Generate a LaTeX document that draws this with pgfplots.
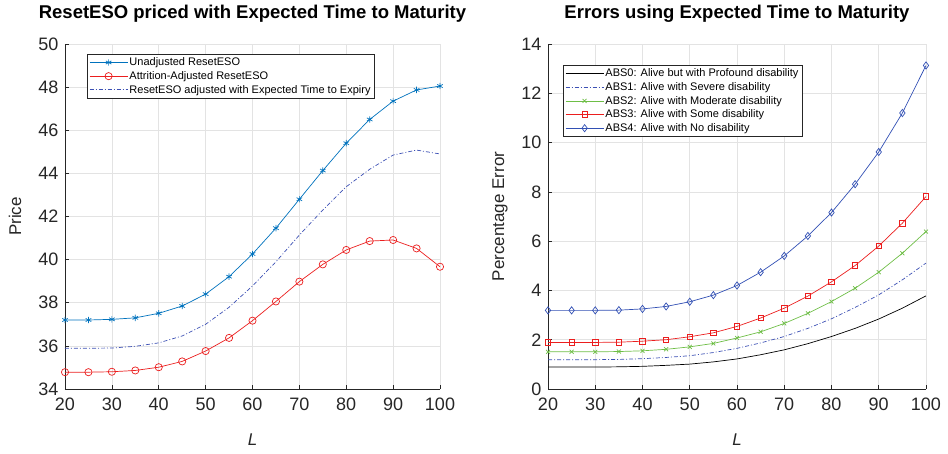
\documentclass[border=0pt]{standalone}
\usepackage{pgfplots}
\pgfplotsset{compat=1.18}
\usepackage{pgfplotstable}
\usepackage{fontspec}
\setmainfont{Liberation Sans}

\definecolor{mblue}{RGB}{0,114,189}
\definecolor{mred}{RGB}{235,30,30}
\definecolor{dblue}{RGB}{60,80,180}
\definecolor{mgreen}{RGB}{110,190,70}
\definecolor{dkblue}{RGB}{50,80,180}
\definecolor{axgray}{RGB}{38,38,38}

% L, unadjusted, attrition-adjusted, expected time
\pgfplotstableread{
L U A E
20 37.20 34.78 35.89
25 37.20 34.78 35.89
30 37.23 34.80 35.90
35 37.30 34.86 35.98
40 37.51 35.01 36.14
45 37.85 35.28 36.46
50 38.40 35.76 37.00
55 39.21 36.37 37.79
60 40.26 37.17 38.78
65 41.46 38.06 39.90
70 42.80 38.98 41.14
75 44.13 39.78 42.30
80 45.40 40.45 43.38
85 46.50 40.86 44.19
90 47.35 40.91 44.85
95 47.87 40.52 45.08
100 48.05 39.67 44.90
}\priceT

% L, ABS0 ... ABS4
\pgfplotstableread{
L A0 A1 A2 A3 A4
20 0.89 1.19 1.51 1.89 3.19
25 0.89 1.19 1.51 1.89 3.19
30 0.89 1.19 1.51 1.89 3.19
35 0.90 1.20 1.52 1.90 3.20
40 0.92 1.23 1.55 1.94 3.25
45 0.96 1.28 1.61 2.00 3.35
50 1.01 1.35 1.71 2.12 3.54
55 1.10 1.48 1.85 2.28 3.81
60 1.22 1.65 2.07 2.54 4.20
65 1.39 1.87 2.32 2.88 4.74
70 1.59 2.13 2.66 3.28 5.40
75 1.84 2.46 3.07 3.77 6.21
80 2.13 2.85 3.55 4.35 7.16
85 2.46 3.31 4.09 5.01 8.31
90 2.84 3.82 4.74 5.80 9.62
95 3.28 4.43 5.51 6.73 11.20
100 3.78 5.11 6.39 7.81 13.13
}\errT

\pgfplotsset{
  mstyle/.style={
    scale only axis, width=375pt, height=345pt,
    axis lines*=left, axis line style={axgray, line width=0.6pt},
    tick align=inside, major tick length=4pt,
    tick style={axgray, line width=0.6pt},
    grid=major, major grid style={gray!22, line width=0.6pt},
    xmin=20, xmax=100, xtick={20,30,...,100},
    /pgf/number format/assume math mode=true,
    tick label style={font=\fontsize{18}{18}\selectfont, text=axgray},
    xticklabel style={yshift=-5pt},
    yticklabel style={xshift=-3pt},
    every axis title/.style={at={(axis description cs:0.5,1.087)}, anchor=center,
      font=\fontsize{18.5}{20}\selectfont\bfseries},
    xlabel style={at={(axis description cs:0.5,-0.148)}, anchor=center,
      font=\fontsize{17}{17}\selectfont\itshape, text=axgray},
    ylabel style={anchor=center, font=\fontsize{17}{17}\selectfont, text=axgray},
    legend cell align=left,
    legend style={draw=axgray, line width=0.5pt, fill=white,
      font=\fontsize{11}{11}\selectfont, inner sep=2pt, row sep=1.2pt,
      nodes={inner sep=1.5pt}},
    legend image code/.code={
      \draw[mark repeat=2,mark phase=2,#1] plot coordinates {(0pt,0pt) (19pt,0pt) (38pt,0pt)};},
  },
  dashdot/.style={dash pattern=on 4pt off 2pt on 1pt off 2pt},
}

\begin{document}
\begin{tikzpicture}
\useasboundingbox (0,0) rectangle (948pt,453pt);

\begin{axis}[mstyle,
  at={(65pt,64pt)}, anchor=south west,
  ymin=34, ymax=50, ytick={34,36,...,50},
  title={ResetESO priced with Expected Time to Maturity},
  xlabel={L}, ylabel={Price},
  ylabel style={at={(axis description cs:-0.133,0.5)}},
  legend style={at={(axis description cs:0.0587,0.971)}, anchor=north west},
]
\addplot[mblue, line width=0.7pt, mark=asterisk, mark size=3.2pt] table[x=L, y=U] {\priceT};
\addlegendentry{Unadjusted ResetESO}
\addplot[mred, line width=0.7pt, mark=o, mark size=3.6pt] table[x=L, y=A] {\priceT};
\addlegendentry{Attrition-Adjusted ResetESO}
\addplot[dblue, line width=0.7pt, dashdot] table[x=L, y=E] {\priceT};
\addlegendentry{ResetESO adjusted with Expected Time to Expiry}
\end{axis}

\begin{axis}[mstyle,
  at={(548pt,64pt)}, anchor=south west, width=378pt,
  ymin=0, ymax=14, ytick={0,2,...,14},
  title={Errors using Expected Time to Maturity},
  xlabel={L}, ylabel={Percentage Error},
  ylabel style={at={(axis description cs:-0.127,0.5)}},
  legend style={at={(axis description cs:0.0397,0.939)}, anchor=north west},
]
\addplot[black, line width=0.7pt] table[x=L, y=A0] {\errT};
\addlegendentry{ABS0: Alive but with Profound disability}
\addplot[dblue, line width=0.7pt, dashdot] table[x=L, y=A1] {\errT};
\addlegendentry{ABS1: Alive with Severe disability}
\addplot[mgreen, line width=0.7pt, mark=x, mark size=2.8pt] table[x=L, y=A2] {\errT};
\addlegendentry{ABS2: Alive with Moderate disability}
\addplot[mred, line width=0.7pt, mark=square, mark size=2.7pt] table[x=L, y=A3] {\errT};
\addlegendentry{ABS3: Alive with Some disability}
\addplot[dkblue, line width=0.7pt, mark=diamond, mark size=3.6pt] table[x=L, y=A4] {\errT};
\addlegendentry{ABS4: Alive with No disability}
\end{axis}
\end{tikzpicture}
\end{document}
